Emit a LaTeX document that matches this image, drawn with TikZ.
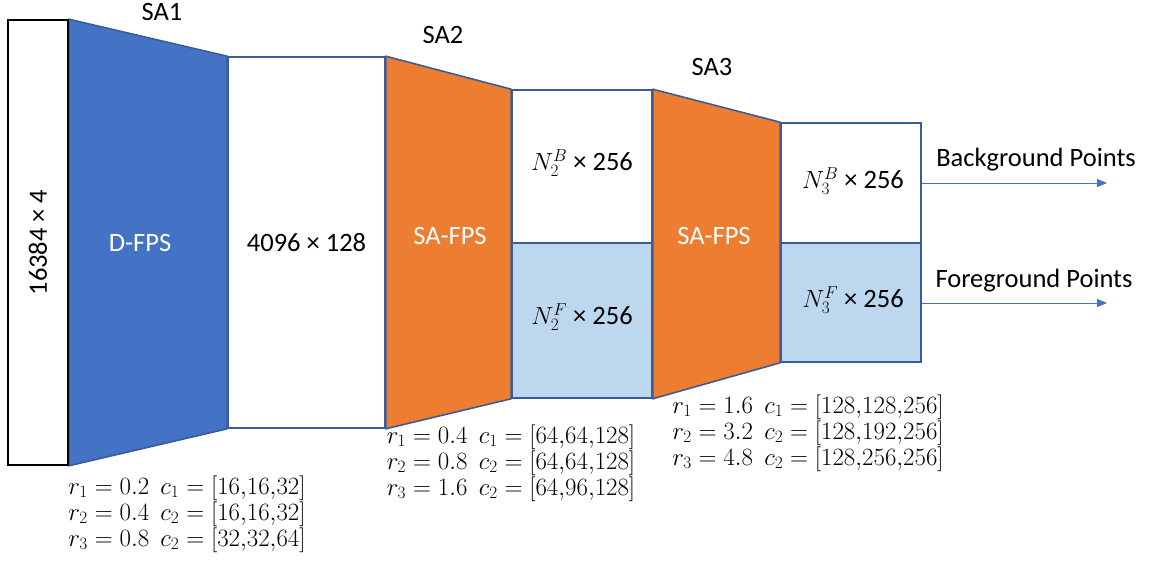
\documentclass[tikz,border=0pt]{standalone}
\usepackage{fontspec}
\setmainfont{Carlito}
\usetikzlibrary{arrows.meta}
\definecolor{fpsblue}{HTML}{4472C4}
\definecolor{fpsorange}{HTML}{ED7D31}
\definecolor{lightfill}{HTML}{BDD7EE}
\definecolor{outline}{HTML}{3A5C9A}
\tikzset{
  box/.style={draw=outline, line width=1.6pt, fill=white, inner sep=0pt, font=\fontsize{26.5}{30}\selectfont},
  inbox/.style={box, draw=black},
  trap/.style={draw=outline, line width=1.6pt, line join=round},
  lbl/.style={font=\fontsize{26.5}{30}\selectfont},
  wlbl/.style={lbl, text=white},
  param/.style={align=center, font=\fontsize{25}{26}\selectfont, inner sep=0pt},
  outarrow/.style={draw=fpsblue, line width=0.9pt, -{Triangle[length=10pt,width=8pt]}}
}
\begin{document}
\begin{tikzpicture}[x=1pt,y=-1pt]
\useasboundingbox (0,0) rectangle (1149,561);
% boxes (positions)
\node[inbox, minimum width=60, minimum height=445] (in) at (38,242.5) {};
\node[box, minimum width=157, minimum height=371] (b2) at (306.5,242.5) {};
\node[box, minimum width=140, minimum height=153] (b3t) at (582,166.5) {};
\node[box, fill=lightfill, minimum width=140, minimum height=155] (b3b) at (582,320.5) {};
\node[box, minimum width=140, minimum height=120] (b4t) at (851,183) {};
\node[box, fill=lightfill, minimum width=140, minimum height=119] (b4b) at (851,302.5) {};
% trapezoids
\filldraw[trap, fill=fpsblue] (in.north east) -- (b2.north west) -- (b2.south west) -- (in.south east) -- cycle;
\filldraw[trap, fill=fpsorange] (b2.north east) -- (b3t.north west) -- (b3b.south west) -- (b2.south east) -- cycle;
\filldraw[trap, fill=fpsorange] (b3t.north east) -- (b4t.north west) -- (b4b.south west) -- (b3b.south east) -- cycle;
% redraw box outlines on top
\node[inbox, minimum width=60, minimum height=445] (inlbl) at (in) {\rotatebox{90}{16384 × 4}};
\node[box, minimum width=157, minimum height=371] (b2lbl) at (b2) {4096 × 128};
\node[box, minimum width=140, minimum height=153] (b3tb) at (b3t) {};
\node[box, fill=lightfill, minimum width=140, minimum height=155] (b3bb) at (b3b) {};
\node[box, minimum width=140, minimum height=120] (b4tb) at (b4t) {};
\node[box, fill=lightfill, minimum width=140, minimum height=119] (b4bb) at (b4b) {};
% labels inside
\node[wlbl] (dfps) at (140,243) {D-FPS};
\node[wlbl] (safps1) at (450,236) {SA-FPS};
\node[wlbl] (safps2) at (714,236) {SA-FPS};
\node[lbl] (n2b) at (582,163) {$N_2^B$ × 256};
\node[lbl] (n2f) at (582,317) {$N_2^F$ × 256};
\node[lbl] (n3b) at (853,181) {$N_3^B$ × 256};
\node[lbl] (n3f) at (853,300) {$N_3^F$ × 256};
% SA titles
\node[lbl] (sa1) at (162,12) {SA1};
\node[lbl] (sa2) at (443,35) {SA2};
\node[lbl] (sa3) at (712,67) {SA3};
% outputs
\coordinate (bgend) at (1107,183);
\coordinate (fgend) at (1107,303);
\draw[outarrow] (b4t.east |- bgend) -- (bgend);
\draw[outarrow] (b4b.east |- fgend) -- (fgend);
\node[lbl] (bg) at (1036,160) {Background Points};
\node[lbl] (fg) at (1034,281) {Foreground Points};
% parameters
\node[param] (p1) at (187,514) {$r_1 = 0.2\ \ c_1 = [16{,}16{,}32]$\\ $r_2 = 0.4\ \ c_2 = [16{,}16{,}32]$\\ $r_3 = 0.8\ \ c_2 = [32{,}32{,}64]$};
\node[param] (p2) at (511,463) {$r_1 = 0.4\ \ c_1 = [64{,}64{,}128]$\\ $r_2 = 0.8\ \ c_2 = [64{,}64{,}128]$\\ $r_3 = 1.6\ \ c_2 = [64{,}96{,}128]$};
\node[param] (p3) at (808,433) {$r_1 = 1.6\ \ c_1 = [128{,}128{,}256]$\\ $r_2 = 3.2\ \ c_2 = [128{,}192{,}256]$\\ $r_3 = 4.8\ \ c_2 = [128{,}256{,}256]$};
\end{tikzpicture}
\end{document}
